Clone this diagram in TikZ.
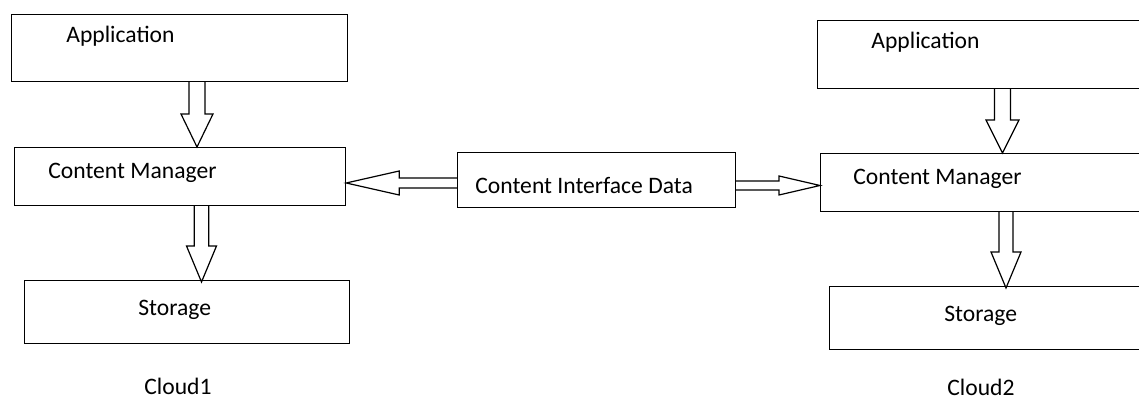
\documentclass[tikz,border=0pt]{standalone}
\usepackage{fontspec}
\setmainfont{Carlito}
\usetikzlibrary{calc}

\tikzset{
    blk/.style={rectangle, draw, line width=0.6pt, anchor=north west, inner sep=0},
    txt/.style={inner sep=0, font=\fontsize{11.8pt}{14pt}\selectfont},
    arr/.style={draw, line width=0.6pt, line join=miter},
}
% hollow block arrow: from, to, shaft half width, head half width, head length
\newcommand\blockarrow[5]{%
    \coordinate (bh) at ($(#2)!#5!(#1)$);
    \draw[arr] ($(#1)!#3!90:(#2)$) -- ($(bh)!#3!90:(#2)$) -- ($(bh)!#4!90:(#2)$)
        -- (#2) -- ($(bh)!#4!-90:(#2)$) -- ($(bh)!#3!-90:(#2)$) -- ($(#1)!#3!-90:(#2)$);
}

\begin{document}
\begin{tikzpicture}[x=0.5pt, y=-0.5pt]
    \useasboundingbox (0,0) rectangle (1139,399);
    \clip (0,0) rectangle (1139,399);

    % Cloud1
    \node[blk, minimum width=168pt, minimum height=33.5pt] (app1) at (11,14) {};
    \node[blk, minimum width=165.5pt, minimum height=29pt] (cm1) at (14,147) {};
    \node[blk, minimum width=162.5pt, minimum height=31.5pt] (st1) at (24,280) {};
    \node[txt, anchor=west] at ($(app1.north west)+(55,22)$) {Application};
    \node[txt, anchor=west] at ($(cm1.north west)+(34,25.5)$) {Content Manager};
    \node[txt, anchor=west] at ($(st1.north west)+(114,29.5)$) {Storage};
    \node[txt] (c1) at ($(st1.south west)+(154,42)$) {Cloud1};

    % middle
    \node[blk, minimum width=139pt, minimum height=27.5pt] (cid) at (457,152) {};
    \node[txt, anchor=west] at ($(cid.north west)+(18,33.5)$) {Content Interface Data};

    % Cloud2
    \node[blk, minimum width=175pt, minimum height=34pt] (app2) at (817,20) {};
    \node[blk, minimum width=175pt, minimum height=29pt] (cm2) at (820,153) {};
    \node[blk, minimum width=175pt, minimum height=31.5pt] (st2) at (829,286) {};
    \node[txt, anchor=west] at ($(app2.north west)+(54,22)$) {Application};
    \node[txt, anchor=west] at ($(cm2.north west)+(33,25.5)$) {Content Manager};
    \node[txt, anchor=west] at ($(st2.north west)+(115,29.5)$) {Storage};
    \node[txt] (c2) at ($(st2.south west)+(152,37.5)$) {Cloud2};

    % arrows
    \coordinate (a1) at ($(app1.south west)+(186,0)$);
    \coordinate (b1) at ($(cm1.north west)+(183,0)$);
    \blockarrow{a1}{b1}{4pt}{8pt}{16.5pt}
    \coordinate (a2) at ($(cm1.south west)+(187.5,0)$);
    \coordinate (b2) at ($(st1.north west)+(177.5,2)$);
    \blockarrow{a2}{b2}{3.6pt}{7.5pt}{18pt}
    \coordinate (a3) at ($(cid.north west)+(0,31)$);
    \coordinate (b3) at ($(cm1.north east)+(0,36)$);
    \blockarrow{a3}{b3}{2.5pt}{6pt}{26.5pt}
    \coordinate (a4) at ($(cid.north east)+(0,33.5)$);
    \coordinate (b4) at ($(cm2.north west)+(0,32.5)$);
    \blockarrow{a4}{b4}{2.25pt}{4.75pt}{20.5pt}
    \coordinate (a5) at ($(app2.south west)+(185.5,0)$);
    \coordinate (b5) at ($(cm2.north west)+(182.5,0)$);
    \blockarrow{a5}{b5}{4pt}{8.25pt}{16.5pt}
    \coordinate (a6) at ($(cm2.south west)+(186,0)$);
    \coordinate (b6) at ($(st2.north west)+(177,2)$);
    \blockarrow{a6}{b6}{3.5pt}{7.5pt}{18pt}
\end{tikzpicture}
\end{document}
